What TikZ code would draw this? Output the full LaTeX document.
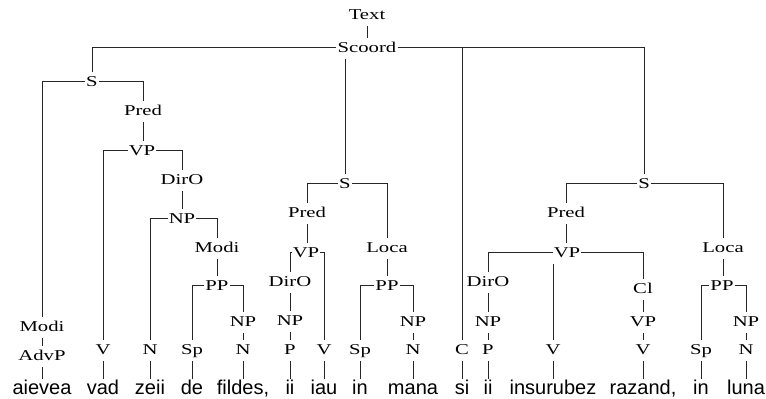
\documentclass[tikz,border=0pt]{standalone}
\usepackage{fontspec}
\newfontfamily\labfont[FakeStretch=1.38]{Liberation Serif}
\newfontfamily\wordfont{Liberation Sans}
\newcommand\tdown[2]{\draw[ln] (#1.south) -- (#1.south |- #2.north);}
\newcommand\tleft[2]{\draw[ln] ([yshift=5pt]#1.base west) -| (#2.north);}
\newcommand\tright[2]{\draw[ln] ([yshift=5pt]#1.base east) -| (#2.north);}
\newcommand\tmid[2]{\draw[ln] (#2.north |- #1.south) -- (#2.north);}
\begin{document}
\begin{tikzpicture}[x=1pt,y=-1pt,
  lab/.style={font=\labfont\fontsize{15}{15}\selectfont, anchor=base, text height=10pt, text depth=3pt, inner xsep=1pt, inner ysep=4pt},
  wd/.style={font=\wordfont\fontsize{20}{20}\selectfont, anchor=base, text height=10pt, text depth=0pt, inner xsep=0pt, inner ysep=4.5pt},
  ln/.style={draw=black!85, line width=0.9pt}]
\useasboundingbox[fill=white] (0,0) rectangle (766,399);
% labels
\node[lab] (Text) at (367,19) {Text};
\node[lab] (Scoord) at (367,52) {Scoord};
\node[lab] (S1) at (92,86) {S};
\node[lab] (Pred1) at (143,115) {Pred};
\node[lab] (VP1) at (142,155) {VP};
\node[lab] (DirO1) at (182,184) {DirO};
\node[lab] (NP1) at (182,223) {NP};
\node[lab] (Modi1) at (217,252) {Modi};
\node[lab] (PP1) at (217,290) {PP};
\node[lab] (NP2) at (243,326) {NP};
\node[lab] (N2) at (243,354) {N};
\node[lab] (Sp1) at (192,354) {Sp};
\node[lab] (N1) at (150,354) {N};
\node[lab] (V1) at (103,354) {V};
\node[lab] (Modi0) at (42,331) {Modi};
\node[lab] (AdvP) at (42,360) {AdvP};
\node[lab] (S2) at (345,188) {S};
\node[lab] (Pred2) at (307,217) {Pred};
\node[lab] (VP2) at (306,257) {VP};
\node[lab] (DirO2) at (290,286) {DirO};
\node[lab] (NP3) at (290,325) {NP};
\node[lab] (P1) at (290,354) {P};
\node[lab] (V2) at (324,354) {V};
\node[lab] (Loca1) at (387,252) {Loca};
\node[lab] (PP2) at (387,290) {PP};
\node[lab] (Sp2) at (360,354) {Sp};
\node[lab] (NP4) at (413,326) {NP};
\node[lab] (N3) at (413,354) {N};
\node[lab] (C) at (462,354) {C};
\node[lab] (S3) at (644,188) {S};
\node[lab] (Pred3) at (566,217) {Pred};
\node[lab] (VP3) at (567,257) {VP};
\node[lab] (DirO3) at (488,286) {DirO};
\node[lab] (NP5) at (488,326) {NP};
\node[lab] (P2) at (488,354) {P};
\node[lab] (V3) at (553,354) {V};
\node[lab] (Cl) at (643,293) {Cl};
\node[lab] (VP4) at (643,326) {VP};
\node[lab] (V4) at (643,354) {V};
\node[lab] (Loca2) at (723,252) {Loca};
\node[lab] (PP3) at (722,290) {PP};
\node[lab] (Sp3) at (701,354) {Sp};
\node[lab] (NP6) at (746,326) {NP};
\node[lab] (N4) at (746,354) {N};
% words
\node[wd] (w1) at (42,394) {aievea};
\node[wd] (w2) at (103,394) {vad};
\node[wd] (w3) at (150,394) {zeii};
\node[wd] (w4) at (192,394) {de};
\node[wd] (w5) at (243,394) {fildes,};
\node[wd] (w6) at (290,394) {ii};
\node[wd] (w7) at (324,394) {iau};
\node[wd] (w8) at (360,394) {in};
\node[wd] (w9) at (413,394) {mana};
\node[wd] (w10) at (462,394) {si};
\node[wd] (w11) at (488,394) {ii};
\node[wd] (w12) at (553,394) {insurubez};
\node[wd] (w13) at (643,394) {razand,};
\node[wd] (w14) at (701,394) {in};
\node[wd] (w15) at (746,394) {luna};
% edges
\tdown{Text}{Scoord}
\tleft{Scoord}{S1}
\tmid{Scoord}{S2}
\tright{Scoord}{S3}
\coordinate (scj) at ([yshift=5pt]Scoord.base);
\draw[ln] (C.north |- scj) -- (C.north);
\tdown{C}{w10}
% S1
\tleft{S1}{Modi0}
\tright{S1}{Pred1}
\tdown{Modi0}{AdvP}
\tdown{AdvP}{w1}
\tdown{Pred1}{VP1}
\tleft{VP1}{V1}
\tright{VP1}{DirO1}
\tdown{V1}{w2}
\tdown{DirO1}{NP1}
\tleft{NP1}{N1}
\tright{NP1}{Modi1}
\tdown{N1}{w3}
\tdown{Modi1}{PP1}
\tleft{PP1}{Sp1}
\tright{PP1}{NP2}
\tdown{Sp1}{w4}
\tdown{NP2}{N2}
\tdown{N2}{w5}
% S2
\tleft{S2}{Pred2}
\tright{S2}{Loca1}
\tdown{Pred2}{VP2}
\tleft{VP2}{DirO2}
\tright{VP2}{V2}
\tdown{DirO2}{NP3}
\tdown{NP3}{P1}
\tdown{P1}{w6}
\tdown{V2}{w7}
\tdown{Loca1}{PP2}
\tleft{PP2}{Sp2}
\tright{PP2}{NP4}
\tdown{Sp2}{w8}
\tdown{NP4}{N3}
\tdown{N3}{w9}
% S3
\tleft{S3}{Pred3}
\tright{S3}{Loca2}
\tdown{Pred3}{VP3}
\tleft{VP3}{DirO3}
\tmid{VP3}{V3}
\tright{VP3}{Cl}
\tdown{DirO3}{NP5}
\tdown{NP5}{P2}
\tdown{P2}{w11}
\tdown{V3}{w12}
\tdown{Cl}{VP4}
\tdown{VP4}{V4}
\tdown{V4}{w13}
\tdown{Loca2}{PP3}
\tleft{PP3}{Sp3}
\tright{PP3}{NP6}
\tdown{Sp3}{w14}
\tdown{NP6}{N4}
\tdown{N4}{w15}
\end{tikzpicture}
\end{document}
